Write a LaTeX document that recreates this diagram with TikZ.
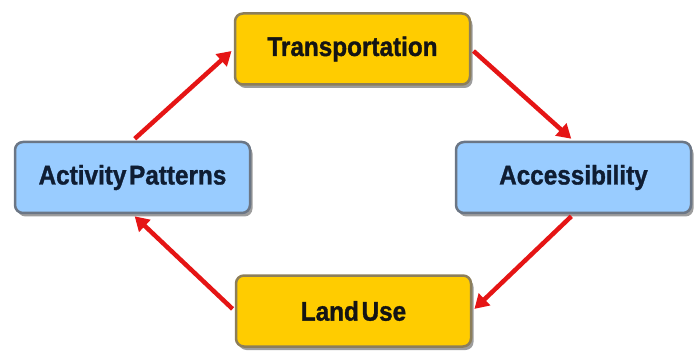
\documentclass[tikz,border=0pt]{standalone}
\usepackage{fontspec}
\setmainfont[FakeStretch=0.9,BoldFeatures={FakeBold=1.2}]{Liberation Sans}
\usetikzlibrary{shadows,arrows.meta}
\definecolor{boxyellow}{HTML}{FFCC00}
\definecolor{yellowedge}{HTML}{8C7E5A}
\definecolor{boxblue}{HTML}{99CCFF}
\definecolor{blueedge}{HTML}{6B7685}
\definecolor{arrowred}{HTML}{E51515}
\definecolor{darktext}{HTML}{141414}
\definecolor{navytext}{HTML}{0F1D33}
\tikzset{
  box/.style={rounded corners=8pt, line width=2.5pt, minimum width=235pt, minimum height=71pt, inner sep=0pt,
    font=\fontsize{27}{30}\selectfont\bfseries,
    drop shadow={shadow xshift=2.5pt, shadow yshift=-3.5pt, fill=black!55, opacity=0.7}},
  ybox/.style={box, draw=yellowedge, fill=boxyellow, text=darktext},
  bbox/.style={box, draw=blueedge, fill=boxblue, text=navytext},
  link/.style={draw=arrowred, line width=4.5pt, -{Triangle[length=14pt,width=16pt]}, shorten <=3pt, shorten >=3pt}
}
\begin{document}
\begin{tikzpicture}[x=1pt,y=-1pt]
\useasboundingbox (0,0) rectangle (700,352);
\node[ybox] (trans) at (352.5,49) {Transportation};
\node[bbox] (act) at (132.5,177.5) {Activity\hspace{0.1em}Patterns};
\node[bbox] (acc) at (573.5,177.5) {Accessibility};
\node[ybox] (land) at (353.5,311) {Land\hspace{0.1em}Use};
\draw[link] (act.north) -- (trans.west);
\draw[link] (trans.east) -- (acc.north);
\draw[link] (acc.south) -- (land.east);
\draw[link] (land.west) -- (act.south);
\end{tikzpicture}
\end{document}
